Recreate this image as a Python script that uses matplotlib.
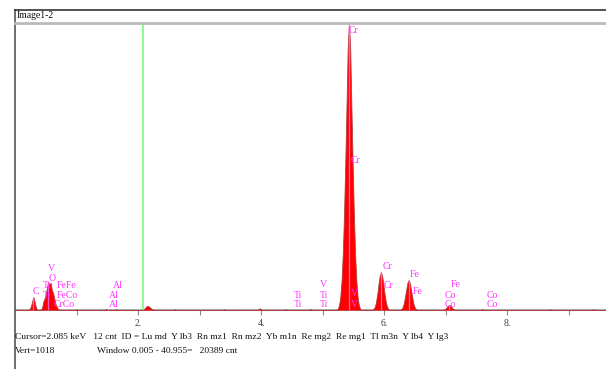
import numpy as np
import matplotlib.pyplot as plt
from matplotlib.lines import Line2D

# EDS spectrum (keV, counts), zeros between the peaks
energy = [0.00, 0.22, 0.24, 0.26, 0.28, 0.30, 0.32, 0.34, 0.36,
          0.42, 0.44, 0.46, 0.48, 0.50, 0.52, 0.54, 0.56, 0.58, 0.60, 0.62, 0.64, 0.66, 0.68, 0.70, 0.72,
          0.98, 1.00, 1.02, 1.46, 1.48, 1.50, 1.62, 1.64, 1.66,
          2.08, 2.12, 2.14, 2.16, 2.18, 2.20, 2.22, 2.26,
          2.58, 2.60, 2.62, 3.38, 3.40, 3.42, 3.94, 3.98, 4.02, 4.38, 4.40, 4.42, 4.78, 4.80, 4.82,
          5.23, 5.25, 5.27, 5.29, 5.31, 5.33, 5.35, 5.37, 5.39, 5.41, 5.43, 5.45, 5.47, 5.49, 5.51,
          5.53, 5.55, 5.57, 5.59, 5.61, 5.63,
          5.81, 5.83, 5.85, 5.87, 5.89, 5.91, 5.93, 5.95, 5.97, 5.99, 6.01, 6.03, 6.05, 6.07, 6.09,
          6.26, 6.28, 6.30, 6.32, 6.34, 6.36, 6.38, 6.40, 6.42, 6.44, 6.46, 6.48, 6.50, 6.52, 6.54,
          6.96, 6.98, 7.00, 7.02, 7.04, 7.06, 7.08, 7.10, 7.12, 7.14, 7.16,
          7.58, 7.60, 7.62, 8.68, 8.70, 8.72, 9.38, 9.40, 9.42, 9.70]
counts = [0, 0, 4, 14, 32, 46, 28, 10, 0,
          0, 8, 30, 40, 55, 80, 98, 92, 96, 70, 60, 40, 20, 10, 4, 0,
          0, 3, 0, 0, 4, 0, 0, 3, 0,
          0, 8, 14, 14, 12, 8, 4, 0,
          0, 3, 0, 0, 3, 0, 0, 6, 0, 0, 3, 0, 0, 4, 0,
          0, 5, 18, 48, 105, 200, 340, 520, 720, 930, 1018, 930, 720, 520, 340,
          200, 105, 48, 18, 5, 0,
          0, 4, 11, 28, 55, 90, 121, 134, 121, 90, 55, 28, 11, 4, 0,
          0, 3, 9, 22, 44, 71, 96, 106, 96, 71, 44, 22, 9, 3, 0,
          0, 2, 5, 10, 15, 18, 15, 10, 5, 2, 0,
          0, 3, 0, 0, 3, 0, 0, 3, 0, 0]

# peak marker lines
marker_e = [0.30, 0.54, 5.43, 5.95, 6.40, 7.06]

# element labels: text, energy, counts
lab_text = ['Cr', 'Cr', 'V', 'V', 'Cr', 'Cr', 'Fe', 'Fe', 'Fe', 'Co', 'Co', 'Co', 'Co',
            'Ti', 'Ti', 'V', 'Ti', 'Ti', 'Al', 'Al', 'Al',
            'V', 'O', 'C', 'Ti', 'FeFe', 'Ti', 'FeCo', 'CrCo']
lab_e = [5.42, 5.45, 5.46, 5.46, 5.97, 6.00, 6.42, 6.46, 7.09, 6.98, 6.98, 7.67, 7.67,
         4.54, 4.54, 4.96, 4.96, 4.96, 1.59, 1.53, 1.53,
         0.54, 0.54, 0.29, 0.46, 0.68, 0.46, 0.68, 0.62]
lab_c = [990, 530, 60, 21, 156, 88, 127, 67, 92, 53, 18, 53, 18,
         53, 18, 92, 53, 18, 88, 53, 18,
         148, 113, 64, 88, 88, 53, 53, 18]

cursor_kev = 2.085
ticks = [1, 2, 3, 4, 5, 6, 7, 8, 9]
tick_labels = ['', '2.', '', '4.', '', '6.', '', '8.', '']

W, H = 606, 369
fig = plt.figure(figsize=(W / 100, H / 100), dpi=100)
serif = ['Liberation Serif', 'DejaVu Serif']

# frame lines of the window
fig.add_artist(Line2D([15 / W, 15 / W], [0, 1 - 10 / H], color='#555555', lw=1.2))
fig.add_artist(Line2D([15 / W, 1], [1 - 10 / H, 1 - 10 / H], color='#333333', lw=1.2))
fig.add_artist(Line2D([15 / W, 1], [1 - 22.5 / H, 1 - 22.5 / H], color='#bbbbbb', lw=2))
fig.text(17 / W, 1 - 16 / H, 'Image1-2', family=serif, fontsize=7, va='center', color='#111111')

ax = fig.add_axes([15 / W, 1 - 310 / H, 1 - 15 / W, (310 - 23) / H])
ax.set_xlim(0, 591 / 61.5)
ax.set_ylim(0, 1018)
for s in ax.spines.values():
    s.set_visible(False)
ax.axhline(0, color='#999999', lw=1.2, zorder=1)
ax.axvline(cursor_kev, color='#80ff80', lw=1.3, zorder=2)

ax.fill_between(energy, counts, 0, color='#ff0000', lw=0.6, edgecolor='#b04040', zorder=3)
ax.vlines(marker_e, 0, np.interp(marker_e, energy, counts), color='#ff5fc8', lw=0.9, zorder=4)

for t, e, c in zip(lab_text, lab_e, lab_c):
    ax.text(e, c, t, family=serif, fontsize=7, color='#ff33ff', va='center', ha='left', zorder=5)

ax.set_yticks([])
ax.set_xticks(ticks)
ax.set_xticklabels(tick_labels, family=serif, fontsize=7, color='#444444')
ax.tick_params(axis='x', direction='out', length=3.5, width=0.8, color='#888888', pad=3)

fig.text(15 / W, 1 - 337 / H,
         'Cursor=2.085 keV   12 cnt  ID = Lu md  Y lb3  Rn mz1  Rn mz2  Yb m1n  Re mg2  Re mg1  Tl m3n  Y lb4  Y lg3',
         family=serif, fontsize=6.8, va='center', color='#111111')
fig.text(15 / W, 1 - 351 / H, 'Vert=1018', family=serif, fontsize=6.8, va='center', color='#111111')
fig.text(97 / W, 1 - 351 / H, 'Window 0.005 - 40.955=   20389 cnt', family=serif, fontsize=6.8,
         va='center', color='#111111')

fig.savefig('out.png', dpi=100)
